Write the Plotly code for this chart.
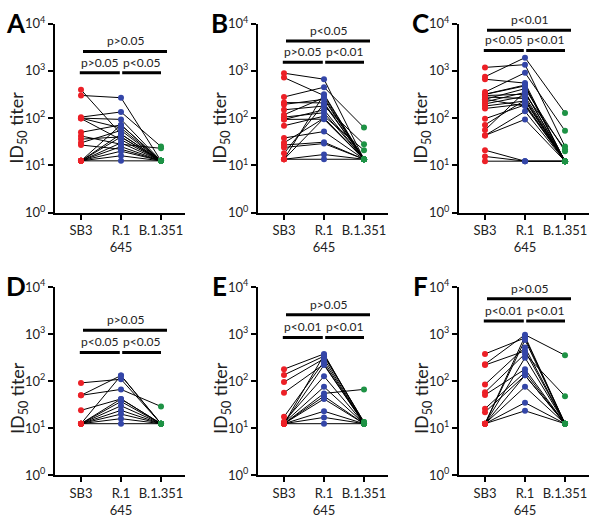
import numpy as np
import plotly.graph_objs as go

# ID50 titers per subject: SB3, R.1 645, B.1.351 (paired)
sb3_a = [398, 302, 105, 100, 100, 98, 50, 42, 36, 30, 27, 12.5, 12.5, 12.5, 12.5, 12.5, 12.5, 12.5, 12.5]
r1645_a = [46, 270, 135, 94, 62, 35, 72, 28, 40, 55, 22, 72, 46, 30, 25, 20, 16, 12.5, 40]
b1351_a = [12.5, 12.5, 25, 12.5, 12.5, 12.5, 12.5, 23, 12.5, 12.5, 12.5, 12.5, 12.5, 12.5, 12.5, 12.5, 12.5, 12.5, 12.5]

sb3_b = [890, 720, 280, 213, 195, 150, 118, 105, 94, 94, 69, 38, 30, 27, 24, 18, 13.5, 13.5, 13.5, 13.5]
r1645_b = [665, 300, 450, 210, 250, 180, 270, 130, 95, 150, 110, 52, 100, 31, 29, 200, 17, 13.5, 320, 100]
b1351_b = [13.5, 13.5, 63, 13.5, 13.5, 28, 13.5, 13.5, 13.5, 13.5, 21, 13.5, 13.5, 13.5, 13.5, 13.5, 13.5, 13.5, 13.5, 13.5]

sb3_c = [1180, 750, 665, 355, 317, 300, 280, 250, 220, 200, 180, 160, 97, 72, 56, 43, 43, 21, 15.5, 12.3, 320, 250]
r1645_c = [1350, 1900, 550, 910, 480, 320, 260, 420, 350, 290, 230, 200, 190, 240, 360, 139, 94, 12.3, 12.3, 12.3, 500, 180]
b1351_c = [25, 129, 12.3, 54, 12.3, 22, 12.3, 20, 12.3, 12.3, 12.3, 12.3, 12.3, 12.3, 12.3, 12.3, 12.3, 12.3, 12.3, 12.3, 12.3, 12.3]

sb3_d = [92, 50, 50, 24, 12.5, 12.5, 12.5, 12.5, 12.5, 12.5, 12.5, 12.5]
r1645_d = [110, 132, 67, 42, 132, 37, 30, 24, 20, 16, 12.5, 42]
b1351_d = [12.5, 12.5, 29, 12.5, 12.5, 12.5, 12.5, 12.5, 12.5, 12.5, 12.5, 12.5]

sb3_e = [180, 136, 96, 57, 17.5, 13.8, 13, 12.5, 12.5, 12.5, 12.5, 12.5, 12.5, 12.5, 12.5]
r1645_e = [380, 340, 300, 230, 260, 127, 76, 55, 48, 42, 23, 17, 12.5, 360, 220]
b1351_e = [12.5, 13.5, 12.5, 12.5, 12.5, 12.5, 12.5, 67, 12.5, 12.5, 12.5, 12.5, 12.5, 13.5, 12.5]

sb3_f = [380, 230, 220, 85, 58, 51, 26, 22, 12.5, 12.5, 12.5, 12.5, 12.5, 12.5, 12.5]
r1645_f = [830, 970, 440, 520, 380, 180, 155, 133, 750, 315, 76, 35, 23.5, 900, 133]
b1351_f = [12.5, 355, 12.5, 12.5, 48, 12.5, 12.5, 12.5, 12.5, 12.5, 12.5, 12.5, 12.5, 12.5, 12.5]

groups = ["SB3", "R.1<br>645", "B.1.351"]
panel_letters = ["A", "B", "C", "D", "E", "F"]
p_top = ["p>0.05", "p<0.05", "p<0.01", "p>0.05", "p>0.05", "p>0.05"]
p_left = ["p>0.05", "p>0.05", "p<0.05", "p<0.05", "p<0.01", "p<0.01"]
p_right = ["p<0.05", "p<0.01", "p<0.01", "p<0.05", "p<0.01", "p<0.01"]

panels = [
    (sb3_a, r1645_a, b1351_a),
    (sb3_b, r1645_b, b1351_b),
    (sb3_c, r1645_c, b1351_c),
    (sb3_d, r1645_d, b1351_d),
    (sb3_e, r1645_e, b1351_e),
    (sb3_f, r1645_f, b1351_f),
]

colors = ["#EC2027", "#3446A8", "#1E9245"]
FONT = "Lato"
W, H = 600, 520

# layout geometry in pixels
col_px = [(55, 185), (258, 388), (459, 589)]
row_px = [(14, 210), (287, 482)]          # (10^4 y, 10^0 y)
bar_levels = [(3.41, 2.96), (3.63, 3.18), (3.86, 3.43),
              (3.08, 2.61), (3.41, 2.93), (3.75, 3.28)]

fig = go.Figure()
shapes, annotations = [], []

for i, (s, r, b) in enumerate(panels):
    row, col = divmod(i, 3)
    n = i + 1
    xa = "x" if n == 1 else f"x{n}"
    ya = "y" if n == 1 else f"y{n}"

    # connecting lines
    lx, ly = [], []
    for v in zip(s, r, b):
        lx += [0, 1, 2, None]
        ly += list(v) + [None]
    fig.add_trace(go.Scatter(x=lx, y=ly, mode="lines", line=dict(color="black", width=1),
                             xaxis=xa, yaxis=ya, hoverinfo="skip", showlegend=False))
    for k, vals in enumerate((s, r, b)):
        fig.add_trace(go.Scatter(x=[k] * len(vals), y=vals, mode="markers",
                                 marker=dict(color=colors[k], size=6),
                                 xaxis=xa, yaxis=ya, showlegend=False))

    x0, x1 = col_px[col]
    ytop, ybot = row_px[row]
    ax = dict(domain=[x0 / W, x1 / W], range=[-0.65, 2.6], anchor=ya,
              tickvals=[0, 1, 2], ticktext=groups, showline=True, linecolor="black",
              linewidth=2, ticks="outside", ticklen=5, tickwidth=2, tickcolor="black",
              showgrid=False, zeroline=False,
              tickfont=dict(family=FONT, size=13, color="#222"))
    ay = dict(domain=[(H - ybot) / H, (H - ytop) / H], type="log", range=[0, 4],
              anchor=xa, tickvals=[1, 10, 100, 1000, 10000],
              ticktext=[f"10<sup>{e}</sup>" for e in range(5)],
              showline=True, linecolor="black", linewidth=2, ticks="outside",
              ticklen=5, tickwidth=2, tickcolor="black", showgrid=False,
              zeroline=False, tickfont=dict(family=FONT, size=13, color="#222"))
    fig.layout[xa.replace("x", "xaxis")] = ax
    fig.layout[ya.replace("y", "yaxis")] = ay

    top_y, low_y = bar_levels[i]
    for (bx0, bx1, by, txt) in [(0.05, 2.15, top_y, p_top[i]),
                                (-0.03, 0.97, low_y, p_left[i]),
                                (1.03, 2.0, low_y, p_right[i])]:
        shapes.append(dict(type="line", xref=xa, yref=ya, x0=bx0, x1=bx1,
                           y0=10 ** by, y1=10 ** by, line=dict(color="black", width=3)))
        annotations.append(dict(xref=xa, yref=ya, x=(bx0 + bx1) / 2, y=by, text=txt,
                                showarrow=False, xanchor="center", yanchor="bottom", yshift=1,
                                font=dict(family=FONT, size=12, color="#222")))

    # y title and panel letter
    ymid = 122 if row == 0 else 402
    annotations.append(dict(xref="paper", yref="paper", x=(x0 - 37) / W, y=(H - ymid) / H,
                            text="ID<sub>50</sub> titer", textangle=-90, showarrow=False,
                            xanchor="center", yanchor="middle",
                            font=dict(family=FONT, size=18, color="#222")))
    annotations.append(dict(xref="paper", yref="paper", x=(x0 - 39) / W,
                            y=(H - (ytop - 1)) / H, text=f"<b>{panel_letters[i]}</b>",
                            showarrow=False, xanchor="center", yanchor="middle",
                            font=dict(family=FONT, size=26, color="black")))

fig.update_layout(width=W, height=H, margin=dict(l=0, r=0, t=0, b=0),
                  plot_bgcolor="white", paper_bgcolor="white",
                  shapes=shapes, annotations=annotations, showlegend=False)

fig.write_html("out.html", config={"displayModeBar": False},
               post_script="document.body.style.margin='0';")
